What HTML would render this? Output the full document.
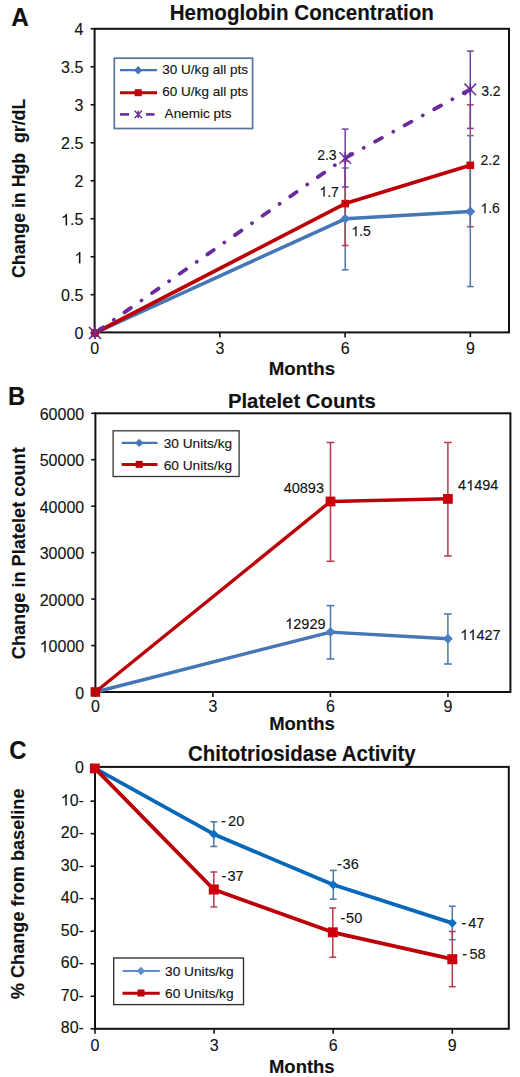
<!DOCTYPE html>
<html><head><meta charset="utf-8"><title>Figure</title>
<style>
html,body{margin:0;padding:0;background:#fff;}
body{width:520px;height:1077px;overflow:hidden;}
svg{display:block;}
svg text{font-family:'Liberation Sans', sans-serif;fill:#111;stroke:#111;stroke-width:0.12px;}
</style></head><body>
<svg width="520" height="1077" viewBox="0 0 520 1077">
<rect width="520" height="1077" fill="#fff"/>
<rect x="94.6" y="28.8" width="414.4" height="303.6" fill="none" stroke="#111" stroke-width="2"/>
<line x1="90.6" y1="332.7" x2="94.6" y2="332.7" stroke="#111" stroke-width="1.6"/>
<text x="83.3" y="339.3" font-size="16" text-anchor="end">0</text>
<line x1="90.6" y1="294.71" x2="94.6" y2="294.71" stroke="#111" stroke-width="1.6"/>
<text x="83.3" y="301.31" font-size="16" text-anchor="end">0.5</text>
<line x1="90.6" y1="256.73" x2="94.6" y2="256.73" stroke="#111" stroke-width="1.6"/>
<text x="74.4" y="263.33" font-size="16">&#8199;</text>
<path d="M80.37 263.33L78.96 263.33L78.96 254.37C78.24 255.09 76.96 255.81 76.13 256.06L76.13 254.7C77.44 254.13 78.88 253.09 79.38 251.88L80.37 251.88Z" fill="#111" stroke="#111" stroke-width="0.12"/>
<line x1="90.6" y1="218.75" x2="94.6" y2="218.75" stroke="#111" stroke-width="1.6"/>
<text x="61.06" y="225.34" font-size="16">&#8199;.5</text>
<path d="M67.02 225.34L65.62 225.34L65.62 216.38C64.9 217.1 63.62 217.82 62.79 218.08L62.79 216.72C64.1 216.15 65.54 215.1 66.04 213.89L67.02 213.89Z" fill="#111" stroke="#111" stroke-width="0.12"/>
<line x1="90.6" y1="180.76" x2="94.6" y2="180.76" stroke="#111" stroke-width="1.6"/>
<text x="83.3" y="187.36" font-size="16" text-anchor="end">2</text>
<line x1="90.6" y1="142.77" x2="94.6" y2="142.77" stroke="#111" stroke-width="1.6"/>
<text x="83.3" y="149.37" font-size="16" text-anchor="end">2.5</text>
<line x1="90.6" y1="104.79" x2="94.6" y2="104.79" stroke="#111" stroke-width="1.6"/>
<text x="83.3" y="111.39" font-size="16" text-anchor="end">3</text>
<line x1="90.6" y1="66.81" x2="94.6" y2="66.81" stroke="#111" stroke-width="1.6"/>
<text x="83.3" y="73.41" font-size="16" text-anchor="end">3.5</text>
<line x1="90.6" y1="28.82" x2="94.6" y2="28.82" stroke="#111" stroke-width="1.6"/>
<text x="83.3" y="35.42" font-size="16" text-anchor="end">4</text>
<line x1="94.6" y1="332.4" x2="94.6" y2="337.4" stroke="#111" stroke-width="1.6"/>
<text x="94.6" y="354.2" font-size="16" text-anchor="middle">0</text>
<line x1="219.85" y1="332.4" x2="219.85" y2="337.4" stroke="#111" stroke-width="1.6"/>
<text x="219.85" y="354.2" font-size="16" text-anchor="middle">3</text>
<line x1="345.1" y1="332.4" x2="345.1" y2="337.4" stroke="#111" stroke-width="1.6"/>
<text x="345.1" y="354.2" font-size="16" text-anchor="middle">6</text>
<line x1="470.35" y1="332.4" x2="470.35" y2="337.4" stroke="#111" stroke-width="1.6"/>
<text x="470.35" y="354.2" font-size="16" text-anchor="middle">9</text>
<line x1="345.2" y1="168" x2="345.2" y2="269.8" stroke="#4a76a8" stroke-width="1.5"/>
<line x1="341.8" y1="168" x2="348.6" y2="168" stroke="#4a76a8" stroke-width="1.5"/>
<line x1="341.8" y1="269.8" x2="348.6" y2="269.8" stroke="#4a76a8" stroke-width="1.5"/>
<line x1="345.2" y1="161.2" x2="345.2" y2="245.5" stroke="#b83a48" stroke-width="1.5"/>
<line x1="341.8" y1="161.2" x2="348.6" y2="161.2" stroke="#b83a48" stroke-width="1.5"/>
<line x1="341.8" y1="245.5" x2="348.6" y2="245.5" stroke="#b83a48" stroke-width="1.5"/>
<line x1="470.3" y1="104.8" x2="470.3" y2="226.7" stroke="#b83a48" stroke-width="1.5"/>
<line x1="466.9" y1="104.8" x2="473.7" y2="104.8" stroke="#b83a48" stroke-width="1.5"/>
<line x1="466.9" y1="226.7" x2="473.7" y2="226.7" stroke="#b83a48" stroke-width="1.5"/>
<line x1="470.3" y1="135.6" x2="470.3" y2="286.6" stroke="#4a76a8" stroke-width="1.5"/>
<line x1="466.9" y1="135.6" x2="473.7" y2="135.6" stroke="#4a76a8" stroke-width="1.5"/>
<line x1="466.9" y1="286.6" x2="473.7" y2="286.6" stroke="#4a76a8" stroke-width="1.5"/>
<line x1="345.2" y1="129.1" x2="345.2" y2="187" stroke="#7040a0" stroke-width="1.5"/>
<line x1="341.8" y1="129.1" x2="348.6" y2="129.1" stroke="#7040a0" stroke-width="1.5"/>
<line x1="341.8" y1="187" x2="348.6" y2="187" stroke="#7040a0" stroke-width="1.5"/>
<line x1="470.3" y1="51.1" x2="470.3" y2="128.4" stroke="#7040a0" stroke-width="1.5"/>
<line x1="466.9" y1="51.1" x2="473.7" y2="51.1" stroke="#7040a0" stroke-width="1.5"/>
<line x1="466.9" y1="128.4" x2="473.7" y2="128.4" stroke="#7040a0" stroke-width="1.5"/>
<polyline points="95,333 345.2,218.8 470.3,211.6" fill="none" stroke="#4576b5" stroke-width="3.5" stroke-linejoin="round"/>
<polyline points="95,333 345.2,203.6 470.3,165.3" fill="none" stroke="#bc0008" stroke-width="3.7" stroke-linejoin="round"/>
<polyline points="95,333 345.2,158 470.3,89.4" fill="none" stroke="#6a2c9c" stroke-width="3.8" stroke-linejoin="round" stroke-linecap="round" stroke-dasharray="7.8 12.95 0.01 12.95" stroke-dashoffset="31.45"/>
<path d="M345.2 213.8L350.2 218.8L345.2 223.8L340.2 218.8Z" fill="#4a7ec2"/>
<path d="M470.3 206.6L475.3 211.6L470.3 216.6L465.3 211.6Z" fill="#4a7ec2"/>
<path d="M95 328L100 333L95 338L90 333Z" fill="#4576b5"/>
<rect x="341.4" y="199.8" width="7.6" height="7.6" fill="#cc000c"/>
<rect x="466.5" y="161.5" width="7.6" height="7.6" fill="#cc000c"/>
<rect x="91.2" y="329.2" width="7.6" height="7.6" fill="#bc0008"/>
<path d="M339.4 152.2L351 163.8M351 152.2L339.4 163.8M345.2 152.2L345.2 163.8" stroke="#6a2c9c" stroke-width="1.5" fill="none"/>
<path d="M464.5 83.6L476.1 95.2M476.1 83.6L464.5 95.2M470.3 83.6L470.3 95.2" stroke="#6a2c9c" stroke-width="1.5" fill="none"/>
<path d="M89 327L101 339M101 327L89 339M95 327L95 339" stroke="#6a2c9c" stroke-width="1.7" fill="none"/>
<text x="336.6" y="159.6" font-size="14" text-anchor="end">2.3</text>
<text x="319.44" y="196.5" font-size="14">&#8199;.7</text>
<path d="M324.66 196.5L323.43 196.5L323.43 188.66C322.8 189.29 321.68 189.92 320.95 190.14L320.95 188.95C322.1 188.45 323.36 187.54 323.79 186.48L324.66 186.48Z" fill="#111" stroke="#111" stroke-width="0.12"/>
<text x="351.3" y="236.2" font-size="14">&#8199;.5</text>
<path d="M356.52 236.2L355.29 236.2L355.29 228.36C354.66 228.99 353.54 229.62 352.81 229.84L352.81 228.65C353.96 228.15 355.22 227.24 355.65 226.18L356.52 226.18Z" fill="#111" stroke="#111" stroke-width="0.12"/>
<text x="481.2" y="95.7" font-size="14">3.2</text>
<text x="480.5" y="165.3" font-size="14">2.2</text>
<text x="480.4" y="213.2" font-size="14">&#8199;.6</text>
<path d="M485.62 213.2L484.39 213.2L484.39 205.36C483.76 205.99 482.64 206.62 481.91 206.84L481.91 205.65C483.06 205.15 484.32 204.24 484.75 203.18L485.62 203.18Z" fill="#111" stroke="#111" stroke-width="0.12"/>
<rect x="114.3" y="58.2" width="138.3" height="70.3" fill="#fff" stroke="#55739a" stroke-width="1.7"/>
<line x1="120" y1="70.2" x2="157" y2="70.2" stroke="#4576b5" stroke-width="2.2"/>
<path d="M138.2 66L142.4 70.2L138.2 74.4L134 70.2Z" fill="#4576b5"/>
<line x1="120" y1="92.7" x2="157" y2="92.7" stroke="#bc0008" stroke-width="3"/>
<rect x="134.7" y="89.2" width="7" height="7" fill="#bc0008"/>
<line x1="120" y1="114.4" x2="129" y2="114.4" stroke="#6a2c9c" stroke-width="2.6"/>
<line x1="146" y1="114.4" x2="154.5" y2="114.4" stroke="#6a2c9c" stroke-width="2.6"/>
<path d="M134.6 110.8L141.8 118M141.8 110.8L134.6 118M138.2 110.8L138.2 118" stroke="#6a2c9c" stroke-width="1.5" fill="none"/>
<text x="162.3" y="73.9" font-size="13.5" textLength="85.7" lengthAdjust="spacingAndGlyphs">30 U/kg all pts</text>
<text x="162.3" y="96.4" font-size="13.5" textLength="85.7" lengthAdjust="spacingAndGlyphs">60 U/kg all pts</text>
<text x="164.6" y="118.2" font-size="13.5" textLength="67" lengthAdjust="spacingAndGlyphs">Anemic pts</text>
<text x="11.3" y="25.8" font-size="25" font-weight="bold" textLength="17.6" lengthAdjust="spacingAndGlyphs">A</text>
<text x="169.7" y="20.2" font-size="21.5" font-weight="bold" textLength="264.2" lengthAdjust="spacingAndGlyphs">Hemoglobin Concentration</text>
<text x="25.2" y="278" font-size="19.2" font-weight="bold" textLength="179.3" lengthAdjust="spacingAndGlyphs" transform="rotate(-90 25.2 278)">Change in Hgb&#160; gr/dL</text>
<text x="268.7" y="374.6" font-size="17.5" font-weight="bold" textLength="66.4" lengthAdjust="spacingAndGlyphs">Months</text>
<rect x="95.4" y="413.3" width="415" height="278.7" fill="none" stroke="#111" stroke-width="2"/>
<line x1="91.2" y1="692" x2="95.4" y2="692" stroke="#111" stroke-width="1.6"/>
<text x="84.2" y="698.7" font-size="16" text-anchor="end">0</text>
<line x1="91.2" y1="645.55" x2="95.4" y2="645.55" stroke="#111" stroke-width="1.6"/>
<text x="39.72" y="652.25" font-size="16">&#8199;0000</text>
<path d="M45.68 652.25L44.28 652.25L44.28 643.29C43.56 644.01 42.28 644.73 41.45 644.98L41.45 643.62C42.76 643.05 44.2 642.01 44.7 640.8L45.68 640.8Z" fill="#111" stroke="#111" stroke-width="0.12"/>
<line x1="91.2" y1="599.1" x2="95.4" y2="599.1" stroke="#111" stroke-width="1.6"/>
<text x="84.2" y="605.8" font-size="16" text-anchor="end">20000</text>
<line x1="91.2" y1="552.65" x2="95.4" y2="552.65" stroke="#111" stroke-width="1.6"/>
<text x="84.2" y="559.35" font-size="16" text-anchor="end">30000</text>
<line x1="91.2" y1="506.2" x2="95.4" y2="506.2" stroke="#111" stroke-width="1.6"/>
<text x="84.2" y="512.9" font-size="16" text-anchor="end">40000</text>
<line x1="91.2" y1="459.75" x2="95.4" y2="459.75" stroke="#111" stroke-width="1.6"/>
<text x="84.2" y="466.45" font-size="16" text-anchor="end">50000</text>
<line x1="91.2" y1="413.3" x2="95.4" y2="413.3" stroke="#111" stroke-width="1.6"/>
<text x="84.2" y="420" font-size="16" text-anchor="end">60000</text>
<line x1="95.4" y1="692" x2="95.4" y2="697" stroke="#111" stroke-width="1.6"/>
<text x="95.4" y="711.6" font-size="16" text-anchor="middle">0</text>
<line x1="212.91" y1="692" x2="212.91" y2="697" stroke="#111" stroke-width="1.6"/>
<text x="212.91" y="711.6" font-size="16" text-anchor="middle">3</text>
<line x1="330.42" y1="692" x2="330.42" y2="697" stroke="#111" stroke-width="1.6"/>
<text x="330.42" y="711.6" font-size="16" text-anchor="middle">6</text>
<line x1="447.93" y1="692" x2="447.93" y2="697" stroke="#111" stroke-width="1.6"/>
<text x="447.93" y="711.6" font-size="16" text-anchor="middle">9</text>
<line x1="330.5" y1="605.6" x2="330.5" y2="659" stroke="#4a76a8" stroke-width="1.5"/>
<line x1="326.6" y1="605.6" x2="334.4" y2="605.6" stroke="#4a76a8" stroke-width="1.5"/>
<line x1="326.6" y1="659" x2="334.4" y2="659" stroke="#4a76a8" stroke-width="1.5"/>
<line x1="447.9" y1="614" x2="447.9" y2="664" stroke="#4a76a8" stroke-width="1.5"/>
<line x1="444" y1="614" x2="451.8" y2="614" stroke="#4a76a8" stroke-width="1.5"/>
<line x1="444" y1="664" x2="451.8" y2="664" stroke="#4a76a8" stroke-width="1.5"/>
<line x1="330.5" y1="442.5" x2="330.5" y2="561.3" stroke="#b83a48" stroke-width="1.5"/>
<line x1="326.6" y1="442.5" x2="334.4" y2="442.5" stroke="#b83a48" stroke-width="1.5"/>
<line x1="326.6" y1="561.3" x2="334.4" y2="561.3" stroke="#b83a48" stroke-width="1.5"/>
<line x1="447.9" y1="442.5" x2="447.9" y2="556" stroke="#b83a48" stroke-width="1.5"/>
<line x1="444" y1="442.5" x2="451.8" y2="442.5" stroke="#b83a48" stroke-width="1.5"/>
<line x1="444" y1="556" x2="451.8" y2="556" stroke="#b83a48" stroke-width="1.5"/>
<polyline points="95.4,692 330.5,632.1 447.9,638.7" fill="none" stroke="#4576b5" stroke-width="3.4" stroke-linejoin="round"/>
<polyline points="95.4,692 330.5,501.5 447.9,498.8" fill="none" stroke="#bc0008" stroke-width="3.4" stroke-linejoin="round"/>
<path d="M330.5 627.1L335.5 632.1L330.5 637.1L325.5 632.1Z" fill="#4a7ec2"/>
<path d="M447.9 633.7L452.9 638.7L447.9 643.7L442.9 638.7Z" fill="#4a7ec2"/>
<path d="M95.4 687L100.4 692L95.4 697L90.4 692Z" fill="#4576b5"/>
<rect x="325.6" y="496.6" width="9.8" height="9.8" fill="#cc000c"/>
<rect x="443" y="494" width="9.8" height="9.8" fill="#cc000c"/>
<rect x="90.6" y="687.2" width="9.6" height="9.6" fill="#bc0008"/>
<text x="324" y="492.6" font-size="14.5" text-anchor="end">40893</text>
<text x="458.1" y="490.4" font-size="14.5">4&#8199;494</text>
<path d="M471.56 490.4L470.29 490.4L470.29 482.28C469.64 482.93 468.48 483.58 467.73 483.82L467.73 482.58C468.92 482.06 470.22 481.12 470.67 480.02L471.56 480.02Z" fill="#111" stroke="#111" stroke-width="0.12"/>
<text x="285.19" y="628.7" font-size="14.5">&#8199;2929</text>
<path d="M290.59 628.7L289.32 628.7L289.32 620.58C288.67 621.23 287.51 621.88 286.75 622.12L286.75 620.88C287.94 620.36 289.25 619.42 289.7 618.32L290.59 618.32Z" fill="#111" stroke="#111" stroke-width="0.12"/>
<text x="460.3" y="639.9" font-size="14.5">&#8199;&#8199;427</text>
<path d="M465.7 639.9L464.43 639.9L464.43 631.78C463.78 632.43 462.62 633.08 461.86 633.32L461.86 632.08C463.06 631.56 464.36 630.62 464.81 629.52L465.7 629.52ZM473.76 639.9L472.49 639.9L472.49 631.78C471.84 632.43 470.68 633.08 469.93 633.32L469.93 632.08C471.12 631.56 472.42 630.62 472.87 629.52L473.76 629.52Z" fill="#111" stroke="#111" stroke-width="0.12"/>
<rect x="113.1" y="430.8" width="126" height="45.7" fill="#fff" stroke="#333" stroke-width="1.3"/>
<line x1="121.7" y1="442.9" x2="157.5" y2="442.9" stroke="#4576b5" stroke-width="2.2"/>
<path d="M139.2 438.7L143.4 442.9L139.2 447.1L135 442.9Z" fill="#4576b5"/>
<line x1="121.7" y1="464.4" x2="157.5" y2="464.4" stroke="#bc0008" stroke-width="3"/>
<rect x="135.7" y="460.9" width="7" height="7" fill="#bc0008"/>
<text x="163.7" y="447.7" font-size="13.5" textLength="68.4" lengthAdjust="spacingAndGlyphs">30 Units/kg</text>
<text x="163.7" y="469.8" font-size="13.5" textLength="68.4" lengthAdjust="spacingAndGlyphs">60 Units/kg</text>
<text x="7.9" y="404.6" font-size="25" font-weight="bold" textLength="17.2" lengthAdjust="spacingAndGlyphs">B</text>
<text x="227.9" y="408.1" font-size="20.5" font-weight="bold" textLength="147.9" lengthAdjust="spacingAndGlyphs">Platelet Counts</text>
<text x="25.1" y="659.2" font-size="19.2" font-weight="bold" textLength="211.9" lengthAdjust="spacingAndGlyphs" transform="rotate(-90 25.1 659.2)">Change in Platelet count</text>
<text x="269.2" y="729.8" font-size="17.5" font-weight="bold" textLength="65.7" lengthAdjust="spacingAndGlyphs">Months</text>
<rect x="95" y="766.9" width="413.8" height="261.9" fill="none" stroke="#111" stroke-width="2"/>
<line x1="90.6" y1="768.6" x2="95" y2="768.6" stroke="#111" stroke-width="1.6"/>
<text x="83.9" y="773.1" font-size="16" text-anchor="end">0</text>
<line x1="90.6" y1="801.12" x2="95" y2="801.12" stroke="#111" stroke-width="1.6"/>
<text x="60.78" y="805.62" font-size="16">&#8199;0-</text>
<path d="M66.74 805.62L65.34 805.62L65.34 796.66C64.62 797.38 63.34 798.11 62.51 798.36L62.51 797C63.82 796.42 65.26 795.38 65.76 794.17L66.74 794.17Z" fill="#111" stroke="#111" stroke-width="0.12"/>
<line x1="90.6" y1="833.65" x2="95" y2="833.65" stroke="#111" stroke-width="1.6"/>
<text x="83.9" y="838.15" font-size="16" text-anchor="end">20-</text>
<line x1="90.6" y1="866.18" x2="95" y2="866.18" stroke="#111" stroke-width="1.6"/>
<text x="83.9" y="870.68" font-size="16" text-anchor="end">30-</text>
<line x1="90.6" y1="898.7" x2="95" y2="898.7" stroke="#111" stroke-width="1.6"/>
<text x="83.9" y="903.2" font-size="16" text-anchor="end">40-</text>
<line x1="90.6" y1="931.23" x2="95" y2="931.23" stroke="#111" stroke-width="1.6"/>
<text x="83.9" y="935.73" font-size="16" text-anchor="end">50-</text>
<line x1="90.6" y1="963.75" x2="95" y2="963.75" stroke="#111" stroke-width="1.6"/>
<text x="83.9" y="968.25" font-size="16" text-anchor="end">60-</text>
<line x1="90.6" y1="996.27" x2="95" y2="996.27" stroke="#111" stroke-width="1.6"/>
<text x="83.9" y="1000.77" font-size="16" text-anchor="end">70-</text>
<line x1="90.6" y1="1028.8" x2="95" y2="1028.8" stroke="#111" stroke-width="1.6"/>
<text x="83.9" y="1033.3" font-size="16" text-anchor="end">80-</text>
<line x1="95" y1="1028.8" x2="95" y2="1033.8" stroke="#111" stroke-width="1.6"/>
<text x="95" y="1051" font-size="16" text-anchor="middle">0</text>
<line x1="214.1" y1="1028.8" x2="214.1" y2="1033.8" stroke="#111" stroke-width="1.6"/>
<text x="214.1" y="1051" font-size="16" text-anchor="middle">3</text>
<line x1="333.2" y1="1028.8" x2="333.2" y2="1033.8" stroke="#111" stroke-width="1.6"/>
<text x="333.2" y="1051" font-size="16" text-anchor="middle">6</text>
<line x1="452.3" y1="1028.8" x2="452.3" y2="1033.8" stroke="#111" stroke-width="1.6"/>
<text x="452.3" y="1051" font-size="16" text-anchor="middle">9</text>
<line x1="213.8" y1="821.8" x2="213.8" y2="846.5" stroke="#4a76a8" stroke-width="1.5"/>
<line x1="210.4" y1="821.8" x2="217.2" y2="821.8" stroke="#4a76a8" stroke-width="1.5"/>
<line x1="210.4" y1="846.5" x2="217.2" y2="846.5" stroke="#4a76a8" stroke-width="1.5"/>
<line x1="333.3" y1="870.4" x2="333.3" y2="899.2" stroke="#4a76a8" stroke-width="1.5"/>
<line x1="329.9" y1="870.4" x2="336.7" y2="870.4" stroke="#4a76a8" stroke-width="1.5"/>
<line x1="329.9" y1="899.2" x2="336.7" y2="899.2" stroke="#4a76a8" stroke-width="1.5"/>
<line x1="452.3" y1="906.2" x2="452.3" y2="939.7" stroke="#4a76a8" stroke-width="1.5"/>
<line x1="448.9" y1="906.2" x2="455.7" y2="906.2" stroke="#4a76a8" stroke-width="1.5"/>
<line x1="448.9" y1="939.7" x2="455.7" y2="939.7" stroke="#4a76a8" stroke-width="1.5"/>
<line x1="213.8" y1="872" x2="213.8" y2="906.9" stroke="#b83a48" stroke-width="1.5"/>
<line x1="210.4" y1="872" x2="217.2" y2="872" stroke="#b83a48" stroke-width="1.5"/>
<line x1="210.4" y1="906.9" x2="217.2" y2="906.9" stroke="#b83a48" stroke-width="1.5"/>
<line x1="332.8" y1="908" x2="332.8" y2="957.2" stroke="#b83a48" stroke-width="1.5"/>
<line x1="329.4" y1="908" x2="336.2" y2="908" stroke="#b83a48" stroke-width="1.5"/>
<line x1="329.4" y1="957.2" x2="336.2" y2="957.2" stroke="#b83a48" stroke-width="1.5"/>
<line x1="452.3" y1="931.5" x2="452.3" y2="986.7" stroke="#b83a48" stroke-width="1.5"/>
<line x1="448.9" y1="931.5" x2="455.7" y2="931.5" stroke="#b83a48" stroke-width="1.5"/>
<line x1="448.9" y1="986.7" x2="455.7" y2="986.7" stroke="#b83a48" stroke-width="1.5"/>
<polyline points="95,768.3 213.8,834.2 333.3,884.8 452.3,923.1" fill="none" stroke="#0868b8" stroke-width="3.8" stroke-linejoin="round"/>
<polyline points="95,768.3 213.8,889.5 332.8,932.3 452.3,959.2" fill="none" stroke="#bc0008" stroke-width="3.8" stroke-linejoin="round"/>
<path d="M213.8 829.6L218.4 834.2L213.8 838.8L209.2 834.2Z" fill="#0a6ec4"/>
<path d="M333.3 880.2L337.9 884.8L333.3 889.4L328.7 884.8Z" fill="#0a6ec4"/>
<path d="M452.3 918.5L456.9 923.1L452.3 927.7L447.7 923.1Z" fill="#0a6ec4"/>
<rect x="208.8" y="884.5" width="10" height="10" fill="#cc000c"/>
<rect x="327.8" y="927.3" width="10" height="10" fill="#cc000c"/>
<rect x="447.3" y="954.2" width="10" height="10" fill="#cc000c"/>
<rect x="89.9" y="763.5" width="9.8" height="9.8" fill="#cc000c"/>
<text x="220.9" y="825.8" font-size="14.5">-</text>
<text x="228.1" y="825.8" font-size="14.5">20</text>
<text x="337.1" y="868.6" font-size="14.5">-</text>
<text x="342.6" y="868.6" font-size="14.5">36</text>
<text x="461.4" y="927.7" font-size="14.5">-</text>
<text x="468.2" y="927.7" font-size="14.5">47</text>
<text x="221.4" y="881" font-size="14.5">-</text>
<text x="227.5" y="881" font-size="14.5">37</text>
<text x="340.6" y="923.3" font-size="14.5">-</text>
<text x="346.1" y="923.3" font-size="14.5">50</text>
<text x="462.3" y="959.4" font-size="14.5">-</text>
<text x="469.4" y="959.4" font-size="14.5">58</text>
<rect x="113.7" y="958" width="129.8" height="46.6" fill="#fff" stroke="#333" stroke-width="1.4"/>
<line x1="122.5" y1="971" x2="159.8" y2="971" stroke="#5b8fd0" stroke-width="2.2"/>
<path d="M141 966.8L145.2 971L141 975.2L136.8 971Z" fill="#5b8fd0"/>
<line x1="122.5" y1="993.3" x2="159.8" y2="993.3" stroke="#bc0008" stroke-width="3"/>
<rect x="137.5" y="989.5" width="7" height="7" fill="#bc0008"/>
<text x="165" y="976" font-size="13.5" textLength="68.6" lengthAdjust="spacingAndGlyphs">30 Units/kg</text>
<text x="165" y="998.3" font-size="13.5" textLength="68.6" lengthAdjust="spacingAndGlyphs">60 Units/kg</text>
<text x="9.3" y="758.6" font-size="25" font-weight="bold" textLength="17.2" lengthAdjust="spacingAndGlyphs">C</text>
<text x="188.1" y="761" font-size="21.5" font-weight="bold" textLength="227.5" lengthAdjust="spacingAndGlyphs">Chitotriosidase Activity</text>
<text x="24.5" y="999.2" font-size="19.2" font-weight="bold" textLength="210.7" lengthAdjust="spacingAndGlyphs" transform="rotate(-90 24.5 999.2)">% Change from baseline</text>
<text x="269" y="1072.9" font-size="17.5" font-weight="bold" textLength="65.6" lengthAdjust="spacingAndGlyphs">Months</text>
</svg>
</body></html>
